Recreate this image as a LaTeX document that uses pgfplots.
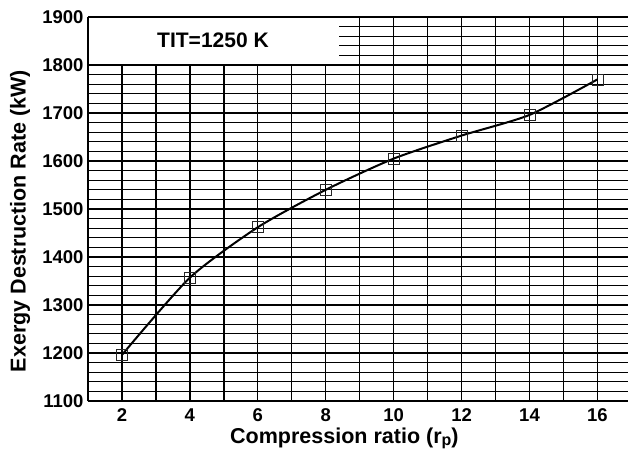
\documentclass[border=0pt]{standalone}
\usepackage{pgfplots}
\pgfplotsset{compat=1.18}
\usepackage{fontspec}
\setmainfont{Liberation Sans}
\begin{document}
\begin{tikzpicture}
\begin{axis}[
  at={(0pt,0pt)}, anchor=south west,
  scale only axis, width=540pt, height=384pt,
  xmin=1, xmax=16.9, ymin=1100, ymax=1900,
  axis x line*=bottom, axis y line*=left,
  xtick={2,4,...,16}, minor xtick={1,3,...,17},
  ytick={1100,1200,...,1900}, minor y tick num=4,
  grid=both,
  major grid style={black, line width=1.3pt},
  minor grid style={black, line width=1.3pt},
  tick align=inside,
  tick style={black, line width=0.8pt}, major tick length=4pt, minor tick length=4pt,
  axis line style={black, line width=1.4pt},
  tick label style={font=\fontsize{18.5}{20}\selectfont\bfseries},
  xticklabel style={yshift=-4pt},
  yticklabel style={xshift=-1pt},
  /pgf/number format/assume math mode=true,
  /pgf/number format/set thousands separator={},
  xlabel={Compression ratio (r\raisebox{-2pt}{\fontsize{16}{16}\selectfont p})},
  ylabel={Exergy Destruction Rate (kW)},
  label style={font=\fontsize{21.5}{24}\selectfont\bfseries},
  xlabel style={at={(axis cs:8.55,1100)}, anchor=center, yshift=-37pt},
  ylabel style={at={(axis cs:1,1475)}, anchor=center, yshift=68pt},
]
\fill[white] ([xshift=0.8pt,yshift=0.7pt]axis cs:1,1800) rectangle ([yshift=-0.7pt]axis cs:8.4,1900);
\draw[black, line width=0.8pt] (axis cs:1,1820) -- ++(4pt,0);
\draw[black, line width=0.8pt] (axis cs:1,1840) -- ++(4pt,0);
\draw[black, line width=0.8pt] (axis cs:1,1860) -- ++(4pt,0);
\draw[black, line width=0.8pt] (axis cs:1,1880) -- ++(4pt,0);
\draw[black, line width=1.4pt] (axis cs:1,1799) -- (axis cs:1,1900);
\node[font=\fontsize{21}{24}\selectfont\bfseries] at (axis cs:4.68,1852) {TIT=1250 K};
\addplot[black, line width=2pt, smooth, tension=0.4, mark=square,
  mark size=5.5pt, mark options={line width=0.8pt, draw=black!85, fill=none}]
  coordinates {
  (2,1196) (4,1357) (6,1462) (8,1540) (10,1605) (12,1653) (14,1696) (16,1770)
  };
\end{axis}
\pgfresetboundingbox
\useasboundingbox (-88pt,-54pt) rectangle (540pt,401pt);
\end{tikzpicture}
\end{document}
